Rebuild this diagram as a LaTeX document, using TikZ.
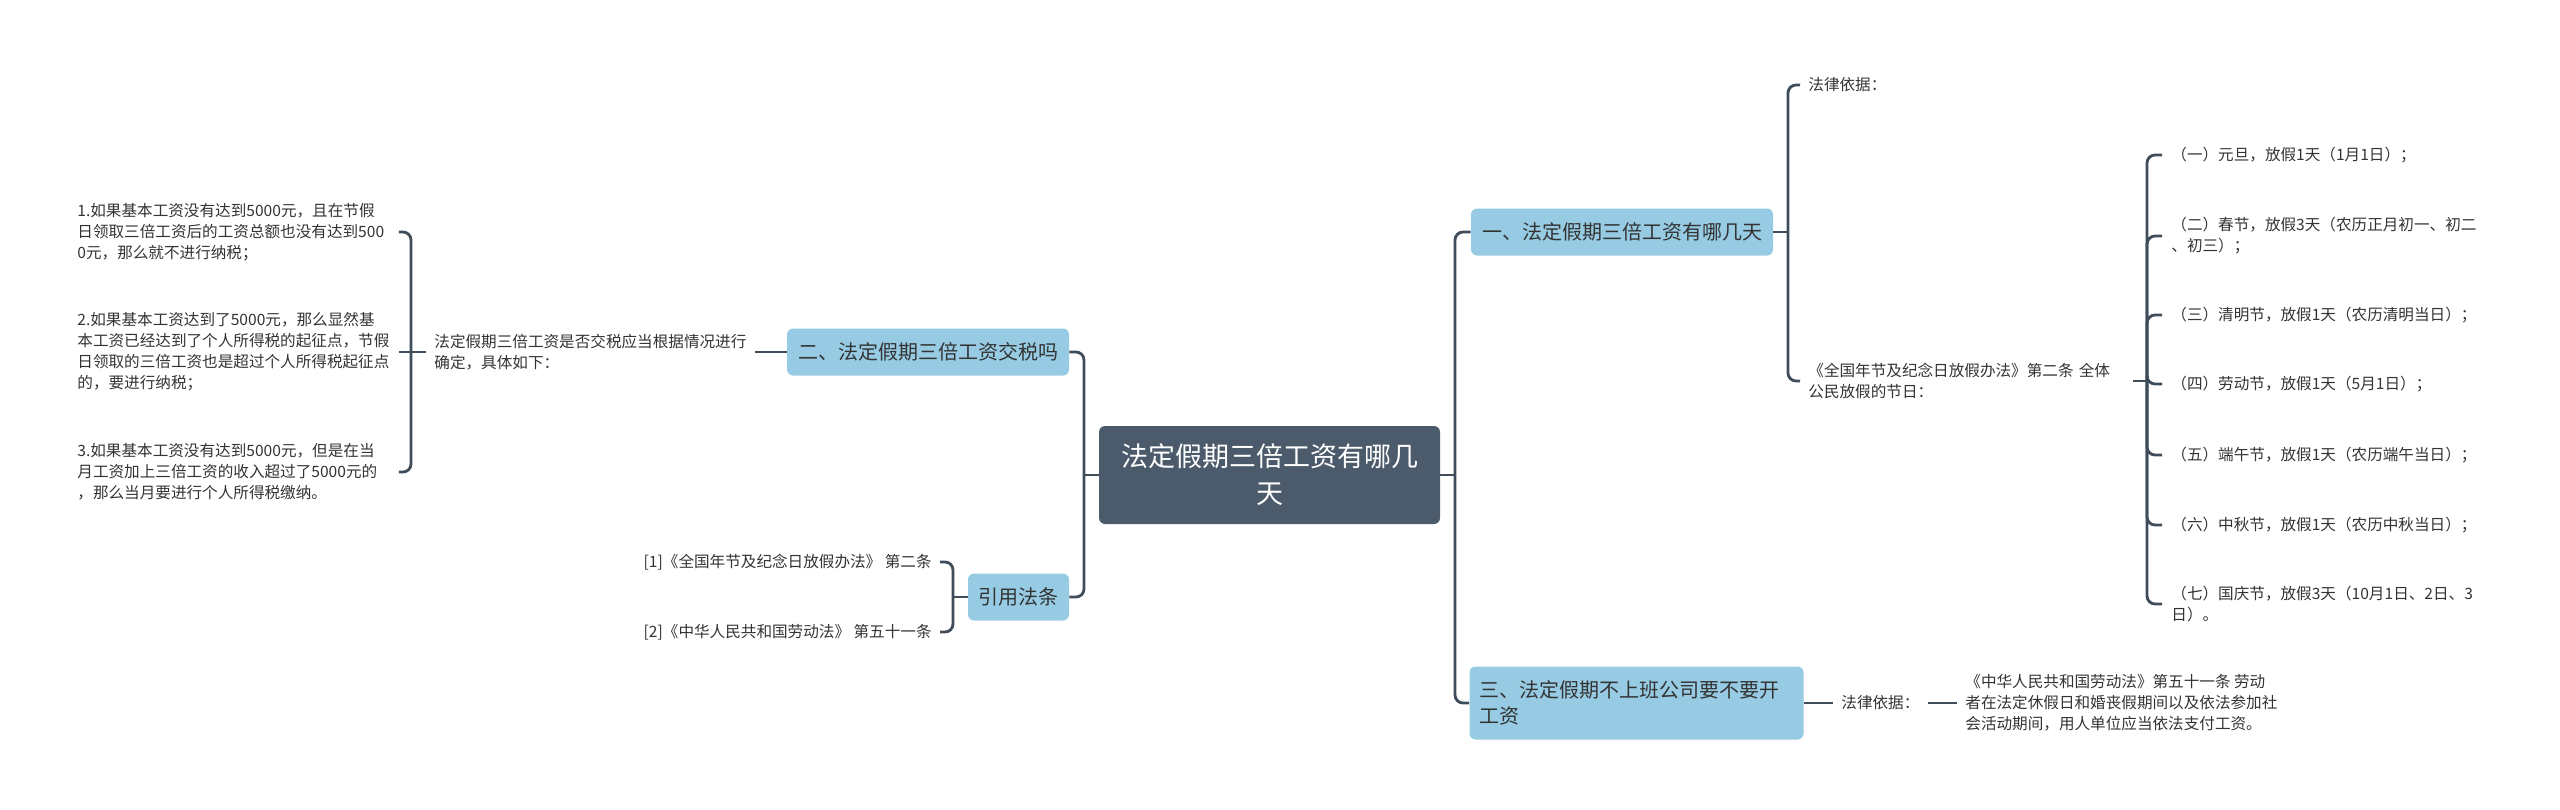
\documentclass[tikz,border=0pt]{standalone}
\usepackage{fontspec}
\setmainfont{Noto Sans CJK SC}
\usepackage{xcolor}
\usepackage{tikz}
\usetikzlibrary{positioning}
\definecolor{rootbg}{HTML}{4B5B6B}
\definecolor{topicbg}{HTML}{96CBE3}
\definecolor{linkc}{HTML}{3F4C5A}
\definecolor{ink}{HTML}{333333}

\tikzset{
  rootbox/.style={fill=rootbg, text=white, rounded corners=3pt, inner sep=0pt,
    minimum width=170.5pt, minimum height=49pt, align=center,
    font=\fontsize{13.5}{18.5}\selectfont},
  topic/.style={fill=topicbg, text=ink, rounded corners=3pt, inner xsep=0pt, inner ysep=0pt,
    minimum height=23.5pt, font=\fontsize{10}{13}\selectfont},
  leaf/.style={text=ink, inner xsep=4pt, inner ysep=0pt, align=left,
    font=\fontsize{7.8}{10.5}\selectfont},
  link/.style={draw=linkc, line width=1.4pt, rounded corners=4pt},
}

\begin{document}
\begin{tikzpicture}[x=0.5pt, y=-0.5pt]
  \useasboundingbox (0,0) rectangle (2560,809);
  % Centre
  \node[rootbox] (root) at (1269.5,475) {法定假期三倍工资有哪几\\天};
  % Topics, right side
  \node[topic, minimum width=151pt] (t1) at (1622,232) {一、法定假期三倍工资有哪几天};
  \node[topic, text width=157pt, inner xsep=5pt, minimum height=36.5pt, align=left] (t3) at (1636.5,703) {三、法定假期不上班公司要不要开\\工资};
  % Topics, left side
  \node[topic, minimum width=141pt] (t2) at (928,352) {二、法定假期三倍工资交税吗};
  \node[topic, minimum width=50.5pt] (t4) at (1018.5,597) {引用法条};
  % Under topic one
  \node[leaf, anchor=west] (law1) at (1800,85) {法律依据：};
  \node[leaf, anchor=west, text width=158pt] (decree) at (1800,381) {《全国年节及纪念日放假办法》第二条 全体\\公民放假的节日：};
  % Holidays
  \node[leaf, anchor=west, inner xsep=4.5pt] (h1) at (2162,155) {（一）元旦，放假1天（1月1日）；};
  \node[leaf, anchor=west, inner xsep=4.5pt] (h2) at (2162,236) {（二）春节，放假3天（农历正月初一、初二\\、初三）；};
  \node[leaf, anchor=west, inner xsep=4.5pt] (h3) at (2162,315) {（三）清明节，放假1天（农历清明当日）；};
  \node[leaf, anchor=west, inner xsep=4.5pt] (h4) at (2162,384) {（四）劳动节，放假1天（5月1日）；};
  \node[leaf, anchor=west, inner xsep=4.5pt] (h5) at (2162,455) {（五）端午节，放假1天（农历端午当日）；};
  \node[leaf, anchor=west, inner xsep=4.5pt] (h6) at (2162,525) {（六）中秋节，放假1天（农历中秋当日）；};
  \node[leaf, anchor=west, inner xsep=4.5pt] (h7) at (2162,604) {（七）国庆节，放假3天（10月1日、2日、3\\日）。};
  % Under topic three
  \node[leaf, anchor=west] (law3) at (1833,703) {法律依据：};
  \node[leaf, anchor=west] (art51) at (1957,703) {《中华人民共和国劳动法》第五十一条 劳动\\者在法定休假日和婚丧假期间以及依法参加社\\会活动期间，用人单位应当依法支付工资。};
  % Under topic two
  \node[leaf, anchor=west] (note) at (426,352) {法定假期三倍工资是否交税应当根据情况进行\\确定，具体如下：};
  \node[leaf, anchor=west, text width=156.5pt] (c1) at (69,232) {1.如果基本工资没有达到5000元，且在节假\\日领取三倍工资后的工资总额也没有达到500\\0元，那么就不进行纳税；};
  \node[leaf, anchor=west, text width=156.5pt] (c2) at (69,352) {2.如果基本工资达到了5000元，那么显然基\\本工资已经达到了个人所得税的起征点，节假\\日领取的三倍工资也是超过个人所得税起征点\\的，要进行纳税；};
  \node[leaf, anchor=west, text width=156.5pt] (c3) at (69,472) {3.如果基本工资没有达到5000元，但是在当\\月工资加上三倍工资的收入超过了5000元的\\，那么当月要进行个人所得税缴纳。};
  % References
  \node[leaf, anchor=east] (r1) at (940,562) {[1]《全国年节及纪念日放假办法》 第二条};
  \node[leaf, anchor=east] (r2) at (940,632) {[2]《中华人民共和国劳动法》 第五十一条};
  % Junctions
  \coordinate (lj) at (1084,475);
  \coordinate (rj) at (1455,475);
  \coordinate (j1) at (1788,232);
  \coordinate (hj) at (2147,381);
  \coordinate (bj) at (411,352);
  \coordinate (bj4) at (953,597);
  % Connectors
  \draw[link] (root.west) -- (lj);
  \draw[link] (lj) |- (t2.east);
  \draw[link] (lj) |- (t4.east);
  \draw[link] (root.east) -- (rj);
  \draw[link] (rj) |- (t1.west);
  \draw[link] (rj) |- (t3.west);
  \draw[link] (t1.east) -- (j1);
  \draw[link] (j1) |- (law1.west);
  \draw[link] (j1) |- (decree.west);
  \draw[link] (decree.east) -- (hj);
  \draw[link] (hj) |- (h1.west);
  \draw[link] (hj) |- (h2.west);
  \draw[link] (hj) |- (h3.west);
  \draw[link] (hj) |- (h4.west);
  \draw[link] (hj) |- (h5.west);
  \draw[link] (hj) |- (h6.west);
  \draw[link] (hj) |- (h7.west);
  \draw[link] (t3.east) -- (law3.west);
  \draw[link] (law3.east) -- (art51.west);
  \draw[link] (t2.west) -- (note.east);
  \draw[link] (note.west) -- (bj);
  \draw[link] (bj) |- (c1.east);
  \draw[link] (bj) -- (c2.east);
  \draw[link] (bj) |- (c3.east);
  \draw[link] (t4.west) -- (bj4);
  \draw[link] (bj4) |- (r1.east);
  \draw[link] (bj4) |- (r2.east);
\end{tikzpicture}
\end{document}
